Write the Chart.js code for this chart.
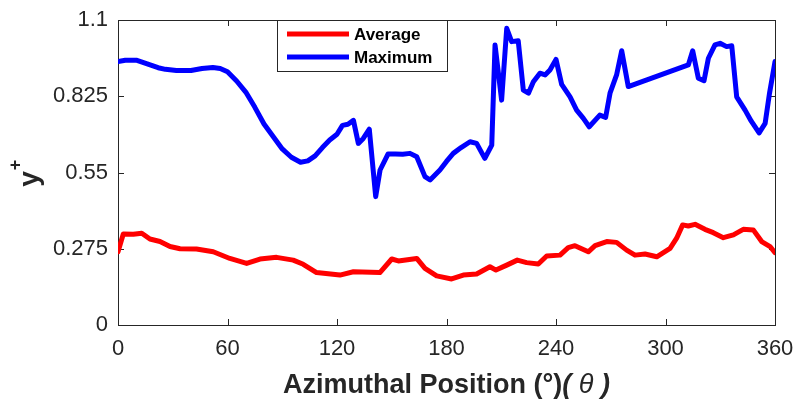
<!DOCTYPE html>
<html>
<head>
<meta charset="utf-8">
<script src="https://cdn.jsdelivr.net/npm/chart.js@4"></script>
<style>
  html, body { margin: 0; padding: 0; background: #fff; }
  canvas { display: block; }
</style>
</head>
<body>
<canvas id="chart" width="796" height="401"></canvas>
<script>
// Average y+ along the azimuth
const avgTheta = [0, 2.9, 8.4, 13, 17.5, 23, 28.5, 34, 43, 52.2, 61.3, 70.5, 77.8, 86.9, 96, 101.5, 108.8, 121.6, 129, 143.5,
    150, 153.6, 163.7, 168.2, 174.6, 182.8, 189.2, 196.5, 203.8, 207.1, 213, 218.8, 223.9, 230.3, 234.9, 242.2, 246.7, 250.4,
    257.7, 261.4, 267.8, 273.2, 278.7, 283.3, 288.8, 295.2, 302.5, 306.1, 309.4, 312.5, 316.2, 321.6, 326.2, 331.7, 337.2,
    342.6, 348.1, 352.7, 357.3, 360];
const avgValues = [0.264, 0.328, 0.327, 0.331, 0.310, 0.301, 0.283, 0.275, 0.274, 0.264, 0.240, 0.222, 0.238, 0.244, 0.234,
    0.219, 0.189, 0.180, 0.192, 0.189, 0.238, 0.231, 0.240, 0.204, 0.177, 0.166, 0.180, 0.184, 0.210, 0.198, 0.216, 0.234,
    0.225, 0.220, 0.249, 0.252, 0.279, 0.286, 0.264, 0.286, 0.301, 0.298, 0.270, 0.252, 0.256, 0.246, 0.276, 0.313, 0.361,
    0.357, 0.363, 0.345, 0.333, 0.315, 0.325, 0.345, 0.343, 0.301, 0.283, 0.261];

// Maximum y+ along the azimuth
const maxTheta = [0, 4, 10, 16, 22, 26, 32, 40, 46, 52, 56, 60, 65, 70, 75, 80, 85, 90, 95, 100, 104, 108, 112, 116, 120,
    123, 126, 129, 131.7, 134.4, 137.7, 141.2, 143.6, 148, 152, 156, 160, 163.7, 168.2, 171, 176.4, 180, 183.7, 188, 192.9,
    196.5, 201, 204.8, 206.6, 210.2, 213, 215.7, 219.3, 222.1, 224.9, 227.6, 231.2, 234, 236.7, 240, 243.1, 247.7, 251.3,
    255, 258.2, 264, 267.2, 269.6, 273.2, 276, 279.6, 312.5, 314.9, 318, 321.1, 323.5, 327.1, 329.9, 333.5, 336.3, 339,
    343.6, 347, 351.3, 354.6, 357, 360];
const maxValues = [0.950, 0.955, 0.955, 0.942, 0.928, 0.922, 0.918, 0.918, 0.925, 0.929, 0.925, 0.913, 0.880, 0.840, 0.785,
    0.725, 0.680, 0.635, 0.605, 0.587, 0.592, 0.610, 0.640, 0.667, 0.688, 0.720, 0.724, 0.738, 0.655, 0.673, 0.706, 0.463,
    0.559, 0.617, 0.617, 0.616, 0.619, 0.607, 0.535, 0.523, 0.559, 0.590, 0.619, 0.640, 0.661, 0.655, 0.601, 0.649, 1.010,
    0.811, 1.070, 1.022, 1.025, 0.847, 0.836, 0.877, 0.908, 0.902, 0.920, 0.958, 0.868, 0.823, 0.775, 0.745, 0.715, 0.757,
    0.749, 0.836, 0.902, 0.989, 0.860, 0.938, 0.989, 0.890, 0.881, 0.962, 1.010, 1.016, 1.004, 1.007, 0.823, 0.775, 0.735,
    0.693, 0.727, 0.836, 0.950];

const seriesNames = ['Average', 'Maximum'];
const xTicks = [0, 60, 120, 180, 240, 300, 360];
const yTicks = [0, 0.275, 0.55, 0.825, 1.1];
const yTickLabels = ['0', '0.275', '0.55', '0.825', '1.1'];

const axisColor = '#262626';
const fontFamily = "'Liberation Sans', Arial, sans-serif";

function toPoints(xs, ys) {
    return xs.map((x, i) => ({ x: x, y: ys[i] }));
}

// box, inward ticks, axis titles and legend in MATLAB style
const matlabAxes = {
    id: 'matlabAxes',
    beforeDatasetsDraw(chart) {
        const ctx = chart.ctx;
        const a = chart.chartArea;
        const xs = chart.scales.x;
        const ys = chart.scales.y;
        ctx.save();
        ctx.strokeStyle = axisColor;
        ctx.lineWidth = 1;
        ctx.strokeRect(Math.round(a.left) + 0.5, Math.round(a.top) + 0.5,
            Math.round(a.right - a.left), Math.round(a.bottom - a.top));
        ctx.beginPath();
        xTicks.forEach(v => {
            const px = Math.round(xs.getPixelForValue(v)) + 0.5;
            ctx.moveTo(px, a.bottom);
            ctx.lineTo(px, a.bottom - 6);
            ctx.moveTo(px, a.top);
            ctx.lineTo(px, a.top + 6);
        });
        yTicks.forEach(v => {
            const py = Math.round(ys.getPixelForValue(v)) + 0.5;
            ctx.moveTo(a.left, py);
            ctx.lineTo(a.left + 6, py);
            ctx.moveTo(a.right, py);
            ctx.lineTo(a.right - 6, py);
        });
        ctx.stroke();
        ctx.restore();
    },
    afterDraw(chart) {
        const ctx = chart.ctx;
        const a = chart.chartArea;
        ctx.save();
        ctx.fillStyle = axisColor;

        // x title
        const parts = [
            { t: 'Azimuthal Position (°)', f: 'bold 27px ' + fontFamily },
            { t: '(', f: 'italic bold 27px ' + fontFamily },
            { t: ' θ ', f: 'italic 27px ' + fontFamily },
            { t: ')', f: 'italic bold 27px ' + fontFamily }
        ];
        let total = 0;
        parts.forEach(p => { ctx.font = p.f; p.w = ctx.measureText(p.t).width; total += p.w; });
        let x = (a.left + a.right) / 2 - total / 2;
        ctx.textBaseline = 'alphabetic';
        ctx.textAlign = 'left';
        parts.forEach(p => { ctx.font = p.f; ctx.fillText(p.t, x, 393); x += p.w; });

        // y title
        ctx.save();
        ctx.translate(38, 179);
        ctx.rotate(-Math.PI / 2);
        ctx.textAlign = 'center';
        ctx.font = 'bold 28px ' + fontFamily;
        ctx.fillText('y', 0, 0);
        ctx.font = 'bold 18px ' + fontFamily;
        ctx.textBaseline = 'middle';
        ctx.fillText('+', 14, -22);
        ctx.restore();

        // legend
        const lx = 277, ly = 20, lw = 170, lh = 51;
        ctx.fillStyle = '#fff';
        ctx.fillRect(lx, ly, lw, lh);
        ctx.strokeStyle = axisColor;
        ctx.lineWidth = 1;
        ctx.strokeRect(lx + 0.5, ly + 0.5, lw, lh);
        chart.data.datasets.forEach((ds, i) => {
            const yy = 34 + i * 23;
            ctx.strokeStyle = ds.borderColor;
            ctx.lineWidth = 5;
            ctx.beginPath();
            ctx.moveTo(287, yy);
            ctx.lineTo(349, yy);
            ctx.stroke();
            ctx.fillStyle = '#000';
            ctx.font = 'bold 17px ' + fontFamily;
            ctx.textAlign = 'left';
            ctx.textBaseline = 'middle';
            ctx.fillText(ds.label, 354, yy + 1);
        });
        ctx.restore();
    }
};

new Chart(document.getElementById('chart'), {
    type: 'line',
    data: {
        datasets: [
            {
                label: seriesNames[0],
                data: toPoints(avgTheta, avgValues),
                borderColor: '#ff0000',
                borderWidth: 5,
                pointRadius: 0,
                tension: 0,
                borderJoinStyle: 'round',
                borderCapStyle: 'round'
            },
            {
                label: seriesNames[1],
                data: toPoints(maxTheta, maxValues),
                borderColor: '#0000ff',
                borderWidth: 5,
                pointRadius: 0,
                tension: 0,
                borderJoinStyle: 'round',
                borderCapStyle: 'round'
            }
        ]
    },
    options: {
        responsive: false,
        animation: false,
        devicePixelRatio: 1,
        layout: { padding: { top: 20, right: 21, left: 0, bottom: 0 } },
        plugins: {
            legend: { display: false },
            tooltip: { enabled: false }
        },
        scales: {
            x: {
                type: 'linear',
                min: 0,
                max: 360,
                afterFit: s => { s.height = 76; s.paddingLeft = 0; s.paddingRight = 0; },
                afterBuildTicks: s => { s.ticks = xTicks.map(v => ({ value: v })); },
                grid: { display: false, drawTicks: false },
                border: { display: false },
                ticks: {
                    color: axisColor,
                    font: { family: fontFamily, size: 22 },
                    padding: 11,
                    maxRotation: 0,
                    callback: v => String(v)
                }
            },
            y: {
                type: 'linear',
                min: 0,
                max: 1.1,
                afterFit: s => { s.width = 118; s.paddingTop = 0; s.paddingBottom = 0; },
                afterBuildTicks: s => { s.ticks = yTicks.map(v => ({ value: v })); },
                grid: { display: false, drawTicks: false },
                border: { display: false },
                ticks: {
                    color: axisColor,
                    font: { family: fontFamily, size: 22 },
                    padding: 10,
                    callback: (v, i) => yTickLabels[i]
                }
            }
        }
    },
    plugins: [matlabAxes]
});
</script>
</body>
</html>
